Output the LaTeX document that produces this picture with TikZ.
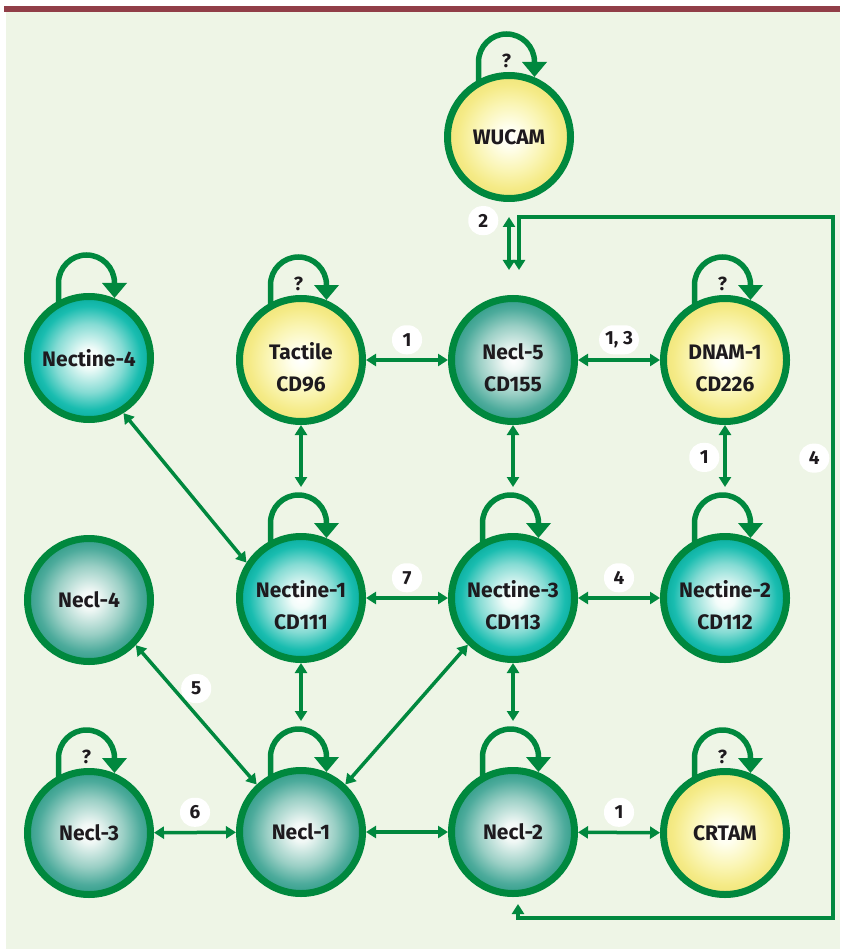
\documentclass[tikz,border=0pt]{standalone}
\usepackage{fontspec}
\setmainfont{Fira Sans}
\usetikzlibrary{arrows.meta,calc}

\definecolor{topbar}{RGB}{145,62,72}
\definecolor{paper}{RGB}{238,245,230}
\definecolor{bondgreen}{RGB}{0,136,62}
\definecolor{ink}{RGB}{30,26,30}

\pgfdeclareradialshading{nectineball}{\pgfpoint{0bp}{0bp}}{rgb(0bp)=(1,1,1); rgb(4bp)=(0.95,0.99,0.98); rgb(14bp)=(0.52,0.86,0.83); rgb(21bp)=(0.1,0.74,0.69); rgb(25bp)=(0.04,0.68,0.62); rgb(50bp)=(0.04,0.68,0.62)}
\pgfdeclareradialshading{neclball}{\pgfpoint{0bp}{0bp}}{rgb(0bp)=(1,1,1); rgb(4bp)=(0.94,0.97,0.96); rgb(14bp)=(0.6,0.81,0.77); rgb(21bp)=(0.3,0.67,0.61); rgb(25bp)=(0.2,0.62,0.54); rgb(50bp)=(0.2,0.62,0.54)}
\pgfdeclareradialshading{orphanball}{\pgfpoint{0bp}{0bp}}{rgb(0bp)=(1,1,1); rgb(4bp)=(1,1,0.94); rgb(14bp)=(0.98,0.96,0.7); rgb(21bp)=(0.96,0.92,0.53); rgb(25bp)=(0.94,0.9,0.48); rgb(50bp)=(0.94,0.9,0.48)}

\newcommand{\lowered}{\rule{0pt}{31pt}}

\tikzset{
  molecule/.style={circle, draw=bondgreen, line width=7pt, minimum size=123pt, inner sep=0pt,
    align=center, text=ink, font=\bfseries\fontsize{21}{32}\selectfont},
  nectine/.style={molecule, shading=nectineball},
  necl/.style={molecule, shading=neclball},
  orphan/.style={molecule, shading=orphanball},
  conn/.style={bondgreen, line width=3.5pt, {Triangle[width=12pt,length=10pt]}-{Triangle[width=12pt,length=10pt]}},
  selfloop/.style={bondgreen, line width=5.5pt, -{Triangle[width=24pt,length=15pt]}},
  numlbl/.style={fill=white, rounded corners=14pt, minimum height=29pt, minimum width=30pt,
    inner xsep=6pt, inner ysep=0pt, text=ink, font=\bfseries\fontsize{19}{19}\selectfont},
  qmark/.style={text=ink, font=\bfseries\fontsize{19}{19}\selectfont}
}

\begin{document}
\begin{tikzpicture}[x=1pt, y=1pt]
  \useasboundingbox (0,0) rectangle (840,-949);
  \fill[white] (0,0) rectangle (840,-949);
  \fill[paper] (6,-12) rectangle (840,-949);
  \fill[topbar] (4,-6) rectangle (840,-12);

  \node[orphan] (wucam) at (509,-137) {WUCAM};
  \node[nectine] (nectine4) at (89,-358) {Nectine-4};
  \node[orphan] (tactile) at (301,-360) {\lowered Tactile\\CD96};
  \node[necl] (necl5) at (513,-360) {\lowered Necl-5\\CD155};
  \node[orphan] (dnam1) at (725,-360) {\lowered DNAM-1\\CD226};
  \node[necl] (necl4) at (89,-600) {Necl-4};
  \node[nectine] (nectine1) at (301,-598) {\lowered Nectine-1\\CD111};
  \node[nectine] (nectine3) at (513,-598) {\lowered Nectine-3\\CD113};
  \node[nectine] (nectine2) at (725,-598) {\lowered Nectine-2\\CD112};
  \node[necl] (necl3) at (89,-833) {Necl-3};
  \node[necl] (necl1) at (301,-832) {Necl-1};
  \node[necl] (necl2) at (513,-832) {Necl-2};
  \node[orphan] (crtam) at (725,-833) {CRTAM};

  % homophilic binding
  \foreach \n in {wucam,tactile,dnam1,necl3,crtam,nectine4,nectine1,nectine3,nectine2,necl1,necl2}
    \draw[selfloop] ($(\n)+(-30.5,53)$) -- ++(0,22) arc[start angle=180, end angle=0, radius=28] -- ++(0,-15);
  \foreach \n in {wucam,tactile,dnam1,necl3,crtam}
    \node[qmark] at ($(\n)+(-2.5,76)$) {?};

  \draw[conn] (tactile) -- node[numlbl, above=4pt] {1} (necl5);
  \draw[conn] (necl5) -- node[numlbl, above=4pt] {1, 3} (dnam1);
  \draw[conn] (nectine1) -- node[numlbl, above=4pt] {7} (nectine3);
  \draw[conn] (nectine3) -- node[numlbl, above=4pt] {4} (nectine2);
  \draw[conn] (necl3) -- node[numlbl, above=4pt] {6} (necl1);
  \draw[conn] (necl1) -- (necl2);
  \draw[conn] (necl2) -- node[numlbl, above=4pt] {1} (crtam);

  \draw[conn, shorten >=46pt] (tactile) -- (nectine1);
  \draw[conn, shorten >=46pt] (necl5) -- (nectine3);
  \draw[conn, shorten >=46pt] (dnam1) -- node[numlbl, pos=0.3, left=4pt] {1} (nectine2);
  \draw[conn, shorten >=46pt] (nectine1) -- (necl1);
  \draw[conn, shorten >=46pt] (nectine3) -- (necl2);

  \draw[conn] (nectine4.-58) -- (nectine1.147);
  \draw[conn] (necl4.-44) -- node[numlbl, above=10pt] {5} (necl1.133);
  \draw[conn] (nectine3.226) -- (necl1.47);

  \draw[conn, shorten <=15pt, shorten >=25pt] (wucam.south) -- node[numlbl, pos=0.2, left=9pt] {2} (wucam.south |- necl5.north);

  \coordinate (ne) at (833,-217);
  \coordinate (se) at (833,-918);
  \draw[conn] ([xshift=6pt,yshift=25pt]necl5.north) |- (ne) -- node[numlbl, pos=0.344, left=2pt] {4} (se) -| ([xshift=5pt,yshift=-7pt]necl2.south);
\end{tikzpicture}
\end{document}
